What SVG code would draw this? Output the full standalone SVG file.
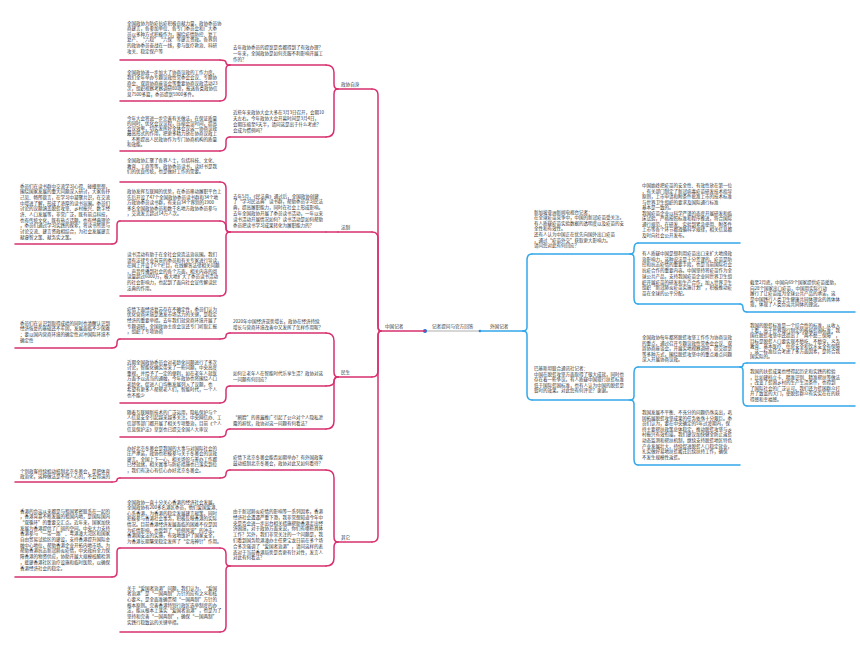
<svg xmlns="http://www.w3.org/2000/svg" width="860" height="647" viewBox="0 0 860 647">
<style>
.t{font-family:"Noto Sans CJK SC","Noto Sans",sans-serif;font-size:4.5px;fill:#333}
.lb{font-family:"Noto Sans CJK SC","Noto Sans",sans-serif;font-size:4.6px;fill:#333}
.pk{fill:none;stroke:#d8306f;stroke-width:1.5;stroke-linecap:round}
.bl{fill:none;stroke:#33a8ea;stroke-width:1.5;stroke-linecap:round}
.gy{fill:none;stroke:#c8c8c8;stroke-width:1.5}
</style>
<rect width="860" height="647" fill="#ffffff"/>

<g id="connectors">
<path class="pk" d="M381,331 Q378,331 378,326 V95 Q378,89 372,89"/>
<path class="pk" d="M381,331 Q378,331 378,326 V238 Q378,232 372,232"/>
<path class="pk" d="M381,331 Q378,331 378,336 V371 Q378,377 372,377"/>
<path class="pk" d="M381,331 Q378,331 378,336 V536 Q378,542 372,542"/>
<path class="pk" d="M338,89 Q334,89 334,84 V73 Q334,65 326,65"/>
<path class="pk" d="M338,89 Q334,89 334,94 V129 Q334,137 326,137"/>
<path class="pk" d="M338,232 H326"/>
<path class="pk" d="M338,377 Q334,377 334,372 V341 Q334,333 326,333"/>
<path class="pk" d="M338,377 Q334,377 334,381.5 Q334,386 326,386"/>
<path class="pk" d="M338,377 Q334,377 334,382 V421 Q334,429 326,429"/>
<path class="pk" d="M338,542 Q334,542 334,537 V478 Q334,470 326,470"/>
<path class="pk" d="M338,542 Q334,542 334,547 V558 Q334,566 326,566"/>
<path class="pk" d="M230,65 Q226,65 226,62.5 Q226,60 220,60"/>
<path class="pk" d="M230,65 Q226,65 226,69 V95 Q226,101 220,101"/>
<path class="pk" d="M230,137 Q226,137 226,141 V145 Q226,151 220,151"/>
<path class="pk" d="M230,232 Q226,232 226,228 V188 Q226,182 220,182"/>
<path class="pk" d="M230,232 Q226,232 226,228 V227 Q226,221 220,221"/>
<path class="pk" d="M230,232 Q226,232 226,236 V290 Q226,296 220,296"/>
<path class="pk" d="M230,333 Q226,333 226,336 Q226,339 220,339"/>
<path class="pk" d="M230,386 Q226,386 226,390 V397 Q226,403 220,403"/>
<path class="pk" d="M230,429 Q226,429 226,433 Q226,437 220,437"/>
<path class="pk" d="M230,470 Q226,470 226,474 Q226,478 220,478"/>
<path class="pk" d="M230,566 Q226,566 226,562 V554 Q226,548 220,548"/>
<path class="pk" d="M230,566 Q226,566 226,570 V626 Q226,632 220,632"/>
<path class="pk" d="M120,221 Q117,221 117,225 V239 Q117,244 112,244"/>
<path class="pk" d="M120,339 Q117,339 117,343 V343.5 Q117,348 112,348"/>
<path class="pk" d="M120,478 Q117,478 117,480 Q117,482 112,482"/>
<path class="pk" d="M120,548 Q117,548 117,552 V572 Q117,577 112,577"/>
<path class="bl" d="M523,331 Q527,331 527,327 V260 Q527,254 532,254"/>
<path class="bl" d="M523,331 Q527,331 527,335 V394 Q527,400 532,400"/>
<path class="bl" d="M630,254 Q634,254 634,250 V249 Q634,243 638,243"/>
<path class="bl" d="M630,254 Q634,254 634,258 V298 Q634,304 638,304"/>
<path class="bl" d="M630,400 Q634,400 634,396 V373 Q634,367 638,367"/>
<path class="bl" d="M630,400 Q634,400 634,404 V459 Q634,465 638,465"/>
<path class="bl" d="M740,304 Q743,304 743,308 Q743,312 747,312"/>
<path class="bl" d="M740,367 Q743,367 743,365 Q743,363 747,363"/>
<path class="bl" d="M740,367 Q743,367 743,371 V400 Q743,406 747,406"/>
</g>

<g id="root">
<path class="gy" d="M425,331 H480"/>
<circle cx="425" cy="331" r="2" fill="#1f6fd6"/>
<circle cx="480" cy="331" r="1.3" fill="#1f6fd6"/>
<text class="lb" x="432" y="328">记者提问与官方回答</text>
</g>
<g id="cn-reporters">
<path class="pk" d="M381,331 H425"/>
<text class="lb" x="385" y="328">中国记者</text>
</g>
<g id="foreign-reporters">
<path class="bl" d="M480,331 H523"/>
<text class="lb" x="490" y="328">外国记者</text>
</g>

<g id="cat-zxzs"><path class="pk" d="M338,89 H372"/><text class="lb" x="341" y="86">政协自身</text></g>
<g id="cat-fz"><path class="pk" d="M338,232 H372"/><text class="lb" x="341" y="229">法制</text></g>
<g id="cat-ms"><path class="pk" d="M338,377 H372"/><text class="lb" x="341" y="374">民生</text></g>
<g id="cat-qt"><path class="pk" d="M338,542 H372"/><text class="lb" x="341" y="539">其它</text></g>

<g id="q1"><path class="pk" d="M230,65 H326"/>
<text class="t" x="233" y="48.5"><tspan x="233">去年政协委员的提案是否都得到了有效办理？</tspan><tspan x="233" dy="6">一年来，全国政协是如何克服不利影响开展工</tspan><tspan x="233" dy="6">作的？</tspan></text></g>
<g id="q2"><path class="pk" d="M230,137 H326"/>
<text class="t" x="233" y="113.5"><tspan x="233">近些年来政协大会大多在3月3日召开，会期10</tspan><tspan x="233" dy="6">天左右。今年政协大会开幕时间是3月4日，</tspan><tspan x="233" dy="6">会期压缩至6天半，请问这是出于什么考虑？</tspan><tspan x="233" dy="6">会成为惯例吗？</tspan></text></g>
<g id="q3"><path class="pk" d="M230,232 H326"/>
<text class="t" x="233" y="197.5"><tspan x="233">去年5月，《民法典》通过后，全国政协创建</tspan><tspan x="233" dy="5.8">了“学习民法典”读书群，帮助委员学习民法</tspan><tspan x="233" dy="5.8">典，提高履职能力，同时在社会上形成影响。</tspan><tspan x="233" dy="5.8">去年全国政协开展了委员读书活动，一年以来</tspan><tspan x="233" dy="5.8">读书活动开展情况如何？读书活动是如何帮助</tspan><tspan x="233" dy="5.8">委员把读书学习成果转化为履职能力的？</tspan></text></g>
<g id="q4"><path class="pk" d="M230,333 H326"/>
<text class="t" x="233" y="322.5"><tspan x="233">2020年中国经济逆势增长，政协在经济持续</tspan><tspan x="233" dy="6">增长与营商环境改善中又发挥了怎样作用呢？</tspan></text></g>
<g id="q5"><path class="pk" d="M230,386 H326"/>
<text class="t" x="233" y="374.5"><tspan x="233">如何让老年人在智能时代乐享生活？政协对这</tspan><tspan x="233" dy="6">一问题有何回应？</tspan></text></g>
<g id="q6"><path class="pk" d="M230,429 H326"/>
<text class="t" x="233" y="418.5"><tspan x="233">“刷脸”的普遍推广引起了公众对个人隐私泄</tspan><tspan x="233" dy="6">露的担忧，政协对这一问题有何看法？</tspan></text></g>
<g id="q7"><path class="pk" d="M230,470 H326"/>
<text class="t" x="233" y="458.5"><tspan x="233">疫情下北京冬奥会能否如期举办？有外国政客</tspan><tspan x="233" dy="6">鼓动抵制北京冬奥会，政协对此又如何看待？</tspan></text></g>
<g id="q8"><path class="pk" d="M230,566 H326"/>
<text class="t" x="233" y="513"><tspan x="233">由于新冠肺炎疫情的影响等一系列因素，香港</tspan><tspan x="233" dy="5.8">经济社会遭遇严重下滑，我非常想知道今年中</tspan><tspan x="233" dy="5.8">央是否会进一步出台相关措施帮助香港走出经</tspan><tspan x="233" dy="5.8">济困境，对于政协方面来说，你们有哪些具体</tspan><tspan x="233" dy="5.8">工作？另外，我们非常关注的一个问题是，我</tspan><tspan x="233" dy="5.8">们看到国务院港澳办主任夏宝龙日前在多个场</tspan><tspan x="233" dy="5.8">合多次强调了“爱国者治港”，请问这样的表</tspan><tspan x="233" dy="5.8">态对于当前香港局势是否更有针对性，发言人</tspan><tspan x="233" dy="5.8">对此有何看法？</tspan></text></g>

<g id="a1"><path class="pk" d="M120,60 H220"/>
<text class="t" x="127" y="24.5"><tspan x="127">全国政协为防疫抗疫积极贡献力量，政协委员协</tspan><tspan x="127" dy="5.6">商建言，各参加单位、各专门委员会和广大委</tspan><tspan x="127" dy="5.6">员以多种方式积极作为，围绕疫情防控、复工</tspan><tspan x="127" dy="5.6">复产、“六稳”“六保”等建言资政。各界别</tspan><tspan x="127" dy="5.6">的政协委员奋战在一线，参与医疗救治、科研</tspan><tspan x="127" dy="5.6">攻关、稳定保产等</tspan></text></g>
<g id="a2"><path class="pk" d="M120,101 H220"/>
<text class="t" x="127" y="73.5"><tspan x="127">全国政协进一步加大了协商议政的工作力度。</tspan><tspan x="127" dy="5.6">我们全年举办专题议政性常委会会议、专题协</tspan><tspan x="127" dy="5.6">商会、双周协商座谈会等重要协商议政活动23</tspan><tspan x="127" dy="5.6">次，组织视察考察调研80项，报送各类政协信</tspan><tspan x="127" dy="5.6">息7500多篇，委员提案5900多件。</tspan></text></g>
<g id="a3"><path class="pk" d="M120,151 H220"/>
<text class="t" x="127" y="119.5"><tspan x="127">今年大会将进一步完善有关做法，在保证质量</tspan><tspan x="127" dy="5.3">的同时，优化会议议程，压缩会议时间，提高</tspan><tspan x="127" dy="5.3">会议效率，切实发挥好全体会议这一协商议政</tspan><tspan x="127" dy="5.3">最高形式的作用，把更多精力放在协商议政上</tspan><tspan x="127" dy="5.3">，不断提高人民政协作为专门协商机构的质量</tspan><tspan x="127" dy="5.3">和效能。</tspan></text></g>
<g id="a4"><path class="pk" d="M120,182 H220"/>
<text class="t" x="127" y="162"><tspan x="127">全国政协汇聚了各界人士，包括科技、文化、</tspan><tspan x="127" dy="5.6">教育、工商等等，政协委员读书，读好书是我</tspan><tspan x="127" dy="5.6">们的优良传统，也是做好工作的需要。</tspan></text></g>
<g id="a5"><path class="pk" d="M120,221 H220"/>
<text class="t" x="127" y="193"><tspan x="127">政协发挥互联网的优势，在委员移动履职平台上</tspan><tspan x="127" dy="5.5">先后开设了47个全国政协委员读书群和34个地</tspan><tspan x="127" dy="5.5">方政协委员读书群，有来自34个界别的1900</tspan><tspan x="127" dy="5.5">多名全国政协委员和数千名地方政协委员参与</tspan><tspan x="127" dy="5.5">，交流发言超过14万人次。</tspan></text></g>
<g id="a6"><path class="pk" d="M120,296 H220"/>
<text class="t" x="127" y="256"><tspan x="127">读书活动有助于在全社会营造法治氛围。我们</tspan><tspan x="127" dy="5.6">请有法律专业背景的委员和有关专家进行导读，</tspan><tspan x="127" dy="5.6">在网上开设了6个栏目，在线解答法律相关问题</tspan><tspan x="127" dy="5.6">，声音传播到社会的各个方面，相关内容的阅</tspan><tspan x="127" dy="5.6">读量超过6000万，极大地扩大了委员读书活动</tspan><tspan x="127" dy="5.6">的社会影响力，也起到了面向社会宣传解读民</tspan><tspan x="127" dy="5.6">法典的作用。</tspan></text></g>
<g id="a7"><path class="pk" d="M120,339 H220"/>
<text class="t" x="127" y="310.5"><tspan x="127">疫情下面经济复苏存在不确定性，委员们认为</tspan><tspan x="127" dy="5.7">优化营商环境是激发市场活力的关键，是稳定</tspan><tspan x="127" dy="5.7">经济的重要举措。去年我们就营商环境开展了</tspan><tspan x="127" dy="5.7">专题调研，全国政协主席会议还专门听取汇报</tspan><tspan x="127" dy="5.7">，组织了专项协商</tspan></text></g>
<g id="a8"><path class="pk" d="M120,403 H220"/>
<text class="t" x="127" y="363.5"><tspan x="127">近期全国政协委员会对老龄化问题进行了多次</tspan><tspan x="127" dy="5.5">讨论，智能化确实带来了一些问题，中央高度</tspan><tspan x="127" dy="5.5">重视，并给予了一定的便利，如在老年人就医</tspan><tspan x="127" dy="5.5">方面予以适当的通融，今年政协也将围绕人口</tspan><tspan x="127" dy="5.5">老龄化，促进人口均衡发展列入了议题，也</tspan><tspan x="127" dy="5.5">希望有更多人帮帮老人们，智能时代，一个人</tspan><tspan x="127" dy="5.5">也不能少</tspan></text></g>
<g id="a9"><path class="pk" d="M120,437 H220"/>
<text class="t" x="127" y="413.5"><tspan x="127">随着互联网新技术的广泛运用，隐私保护与个</tspan><tspan x="127" dy="5.7">人信息安全引起越来越多关注。中央网信办、工</tspan><tspan x="127" dy="5.7">信部等部门都开展了相关专项整治，目前《个人</tspan><tspan x="127" dy="5.7">信息保护法》草案也已提交全国人大审议</tspan></text></g>
<g id="a10"><path class="pk" d="M120,478 H220"/>
<text class="t" x="127" y="449.5"><tspan x="127">办好北京冬奥会是我国的大事与对国际社会的</tspan><tspan x="127" dy="5.6">庄严承诺，政协也积极参与关于冬奥会的议政</tspan><tspan x="127" dy="5.6">建言。全国上下一心，相关场馆与筹办工作都</tspan><tspan x="127" dy="5.6">已经就绪，相关赛事与防疫措施也已落实到位</tspan><tspan x="127" dy="5.6">，我们有决心有信心办好北京冬奥会。</tspan></text></g>
<g id="a11"><path class="pk" d="M120,548 H220"/>
<text class="t" x="127" y="503.5"><tspan x="127">全国政协一直十分关心香港的经济社会发展。</tspan><tspan x="127" dy="5.6">全国政协有200多名港区委员，他们爱国爱港、</tspan><tspan x="127" dy="5.6">心系香港，为香港的稳定发展建言献策，同时</tspan><tspan x="127" dy="5.6">积极参与香港社会事务，积极反映香港的实际</tspan><tspan x="127" dy="5.6">情况。目前香港经济发展面临的困难不仅是因</tspan><tspan x="127" dy="5.6">为疫情影响，也受到了“修例风波”的冲击。</tspan><tspan x="127" dy="5.6">香港国安法的实施，有效地维护了国家安全，</tspan><tspan x="127" dy="5.6">为香港长期繁荣稳定发挥了“定海神针”作用。</tspan></text></g>
<g id="a12"><path class="pk" d="M120,632 H220"/>
<text class="t" x="127" y="589.5"><tspan x="127">关于“爱国者治港”问题，我们认为，“爱国</tspan><tspan x="127" dy="5.7">者治港”是“一国两制”方针的应有之义和核</tspan><tspan x="127" dy="5.7">心要义，是全面准确贯彻“一国两制”方针的</tspan><tspan x="127" dy="5.7">根本原则。完善香港特别行政区选举制度的办</tspan><tspan x="127" dy="5.7">法，能从根本上落实“爱国者治港”，也是为了</tspan><tspan x="127" dy="5.7">坚持和完善“一国两制”，确保“一国两制”</tspan><tspan x="127" dy="5.7">实践行稳致远的关键举措。</tspan></text></g>

<g id="l1"><path class="pk" d="M15,244 H112"/>
<text class="t" x="20" y="187.5"><tspan x="20">委员们在读书群中交流学习心得、碰撞思想，</tspan><tspan x="20" dy="5.7">围绕国家发展的重大问题深入研讨，大家各抒</tspan><tspan x="20" dy="5.7">己见、畅所欲言，在学习中凝聚共识，在交流</tspan><tspan x="20" dy="5.7">中增进了解，形成了浓厚的读书氛围。委员们</tspan><tspan x="20" dy="5.7">讨论的议题涵盖脱贫攻坚、乡村振兴、数字经</tspan><tspan x="20" dy="5.7">济、人口发展等，非常广泛，既有前沿科技，</tspan><tspan x="20" dy="5.7">也有传统文化，既有热点话题，也有经典理论</tspan><tspan x="20" dy="5.7">，委员们通过学习实践的探索，将读书所思与</tspan><tspan x="20" dy="5.7">讨论交流、建言资政相结合，为社会发展建言</tspan><tspan x="20" dy="5.7">献睿智之策、献务实之策。</tspan></text></g>
<g id="l2"><path class="pk" d="M15,348 H112"/>
<text class="t" x="20" y="324.5"><tspan x="20">委员们在认识到取得成绩的同时也清醒认识到</tspan><tspan x="20" dy="5.7">经济恢复的基础还不牢固，发展面临不少困难</tspan><tspan x="20" dy="5.7">；要以国内营商环境的确定性对冲国际环境不</tspan><tspan x="20" dy="5.7">确定性</tspan></text></g>
<g id="l3"><path class="pk" d="M15,482 H112"/>
<text class="t" x="20" y="472.5"><tspan x="20">个别政客持续煽动抵制北京冬奥会，是把体育</tspan><tspan x="20" dy="5.7">政治化，这种做法是不得人心的，不会得逞的</tspan></text></g>
<g id="l4"><path class="pk" d="M15,577 H112"/>
<text class="t" x="20" y="512.5"><tspan x="20">香港的命运从来都是与祖国紧密联系在一起的</tspan><tspan x="20" dy="5.7">，香港背靠不断发展的祖国内地，是国际国内</tspan><tspan x="20" dy="5.7">“双循环”的重要交汇点。近年来，国家加快</tspan><tspan x="20" dy="5.7">发展为香港提供了广阔的空间。中央大力支持</tspan><tspan x="20" dy="5.7">香港参与“一带一路”、粤港澳大湾区和国家</tspan><tspan x="20" dy="5.7">自由贸易试验区的建设，支持香港提升国际金</tspan><tspan x="20" dy="5.7">融中心地位，帮助香港企业开拓内地市场。为</tspan><tspan x="20" dy="5.7">帮助香港抗击新冠肺炎疫情，中央政府全力保</tspan><tspan x="20" dy="5.7">障香港的物资供应，协助开展大规模核酸检测</tspan><tspan x="20" dy="5.7">，援建香港社区治疗设施和临时医院，以确保</tspan><tspan x="20" dy="5.7">香港经济社会的稳定。</tspan></text></g>

<g id="rq1"><path class="bl" d="M532,254 H630"/>
<text class="t" x="534" y="213.5"><tspan x="534">新加坡亚洲新闻电视台记者：</tspan><tspan x="534" dy="5.6">在全球疫苗竞争中，中国的新冠疫苗受关注。</tspan><tspan x="534" dy="5.6">有人质疑疫苗实验数据的透明度以及疫苗的安</tspan><tspan x="534" dy="5.6">全性和有效性。</tspan><tspan x="534" dy="5.6">还有人认为中国正在优先向国外出口疫苗</tspan><tspan x="534" dy="5.6">，通过“疫苗外交”获取更大影响力。</tspan><tspan x="534" dy="5.6">请问您对此有何回应？</tspan></text></g>
<g id="rq2"><path class="bl" d="M532,400 H630"/>
<text class="t" x="534" y="370"><tspan x="534">巴基斯坦联合通讯社记者：</tspan><tspan x="534" dy="5.6">中国在脱贫攻坚方面取得了很大成就，同时也</tspan><tspan x="534" dy="5.6">存在着一些争议。有人质疑中国现行扶贫标准</tspan><tspan x="534" dy="5.6">低于国际贫困标准，也有人认为中国的脱贫是</tspan><tspan x="534" dy="5.6">暂时的效果。对此您有何评论？谢谢。</tspan></text></g>

<g id="ra1"><path class="bl" d="M638,243 H740"/>
<text class="t" x="642" y="187"><tspan x="642">中国始终把疫苗的安全性、有效性放在第一位</tspan><tspan x="642" dy="5.5">，有关部门制定了新冠病毒疫苗研发技术指导</tspan><tspan x="642" dy="5.5">原则，上市申请和附条件批准上市的技术标准</tspan><tspan x="642" dy="5.5">与世界卫生组织的要求及国际通行标准</tspan><tspan x="642" dy="5.5">基本是一致的。</tspan><tspan x="642" dy="5.5">我国疫苗企业以科学严谨的态度开展研发和临</tspan><tspan x="642" dy="5.5">床试验，严格按照标准和程序推进，符合国际</tspan><tspan x="642" dy="5.5">通行规范，在研发、实验到紧急使用、附条件</tspan><tspan x="642" dy="5.5">上市等各个环节都遵循科学规律，相关信息都</tspan><tspan x="642" dy="5.5">及时向社会公开发布。</tspan></text></g>
<g id="ra2"><path class="bl" d="M638,304 H740"/>
<text class="t" x="642" y="255"><tspan x="642">有人质疑中国是想利用疫苗出口来扩大地缘政</tspan><tspan x="642" dy="5.7">治影响力，这种说法是十分荒谬的。疫苗是防</tspan><tspan x="642" dy="5.7">控和抗击疫情的重要手段，也是当前国际社会</tspan><tspan x="642" dy="5.7">抗疫合作的重要内容。中国坚持将疫苗作为全</tspan><tspan x="642" dy="5.7">球公共产品，支持我国疫苗企业同世界卫生组</tspan><tspan x="642" dy="5.7">织开展疫苗的研发和生产合作，加入世界卫生</tspan><tspan x="642" dy="5.7">组织“新冠肺炎疫苗实施计划”，积极推动疫</tspan><tspan x="642" dy="5.7">苗在全球的公平分配。</tspan></text></g>
<g id="ra3"><path class="bl" d="M638,367 H740"/>
<text class="t" x="642" y="339"><tspan x="642">全国政协每年都将脱贫攻坚工作作为协商议政</tspan><tspan x="642" dy="5.5">的重点，通过召开专题议政性常委会会议、双</tspan><tspan x="642" dy="5.5">周协商座谈会，开展实地视察调研，提交提案</tspan><tspan x="642" dy="5.5">等多种方式，围绕脱贫攻坚中的重点难点问题</tspan><tspan x="642" dy="5.5">深入开展协商议政。</tspan></text></g>
<g id="ra4"><path class="bl" d="M638,465 H740"/>
<text class="t" x="642" y="414"><tspan x="642">我国发展不平衡、不充分的问题仍然突出，巩</tspan><tspan x="642" dy="5.6">固拓展脱贫攻坚成果的任务依然十分艰巨。委</tspan><tspan x="642" dy="5.6">员们认为，要在中央确定的5年过渡期内，保</tspan><tspan x="642" dy="5.6">持主要帮扶政策总体稳定，推动脱贫攻坚与乡</tspan><tspan x="642" dy="5.6">村振兴有效衔接。我们建议加快健全防止返贫</tspan><tspan x="642" dy="5.6">动态监测和帮扶机制，继续支持脱贫地区特色</tspan><tspan x="642" dy="5.6">产业发展壮大，持续促进脱贫人口稳定就业，</tspan><tspan x="642" dy="5.6">扎实做好易地扶贫搬迁后续扶持工作，确保</tspan><tspan x="642" dy="5.6">不发生规模性返贫。</tspan></text></g>

<g id="rb1"><path class="bl" d="M747,312 H855"/>
<text class="t" x="750" y="284"><tspan x="750">截至2月底，中国向69个国家提供疫苗援助，</tspan><tspan x="750" dy="5.5">向28个国家出口疫苗，中国用实际行动</tspan><tspan x="750" dy="5.5">履行了让疫苗成为全球公共产品的承诺，这</tspan><tspan x="750" dy="5.5">是中国践行人类卫生健康共同体理念的具体体</tspan><tspan x="750" dy="5.5">现，体现了人类命运共同体的理念。</tspan></text></g>
<g id="rb2"><path class="bl" d="M747,363 H855"/>
<text class="t" x="750" y="327"><tspan x="750">我国的脱贫标准是一个综合性的标准，从收入</tspan><tspan x="750" dy="5.2">上看，高于世界银行制定的极端贫困标准；我</tspan><tspan x="750" dy="5.2">国在脱贫攻坚中还提出了“两不愁三保障”，</tspan><tspan x="750" dy="5.2">目标是脱贫人口要实现不愁吃、不愁穿，义务</tspan><tspan x="750" dy="5.2">教育、基本医疗、住房安全和饮水安全有保障</tspan><tspan x="750" dy="5.2">，这一标准综合考虑了多方面因素，是符合我</tspan><tspan x="750" dy="5.2">国实际的。</tspan></text></g>
<g id="rb3"><path class="bl" d="M747,406 H855"/>
<text class="t" x="750" y="373"><tspan x="750">我国的扶贫成果也经得起历史和实践的检验</tspan><tspan x="750" dy="5.5">，比如建档立卡、精准识别、精准帮扶等做法</tspan><tspan x="750" dy="5.5">，改变了贫困乡村的生产生活条件，也得到</tspan><tspan x="750" dy="5.5">了国际社会的广泛认可。我们还为贫困群众打</tspan><tspan x="750" dy="5.5">开了致富的大门，使脱贫群众有实实在在的获</tspan><tspan x="750" dy="5.5">得感和幸福感。</tspan></text></g>
</svg>
